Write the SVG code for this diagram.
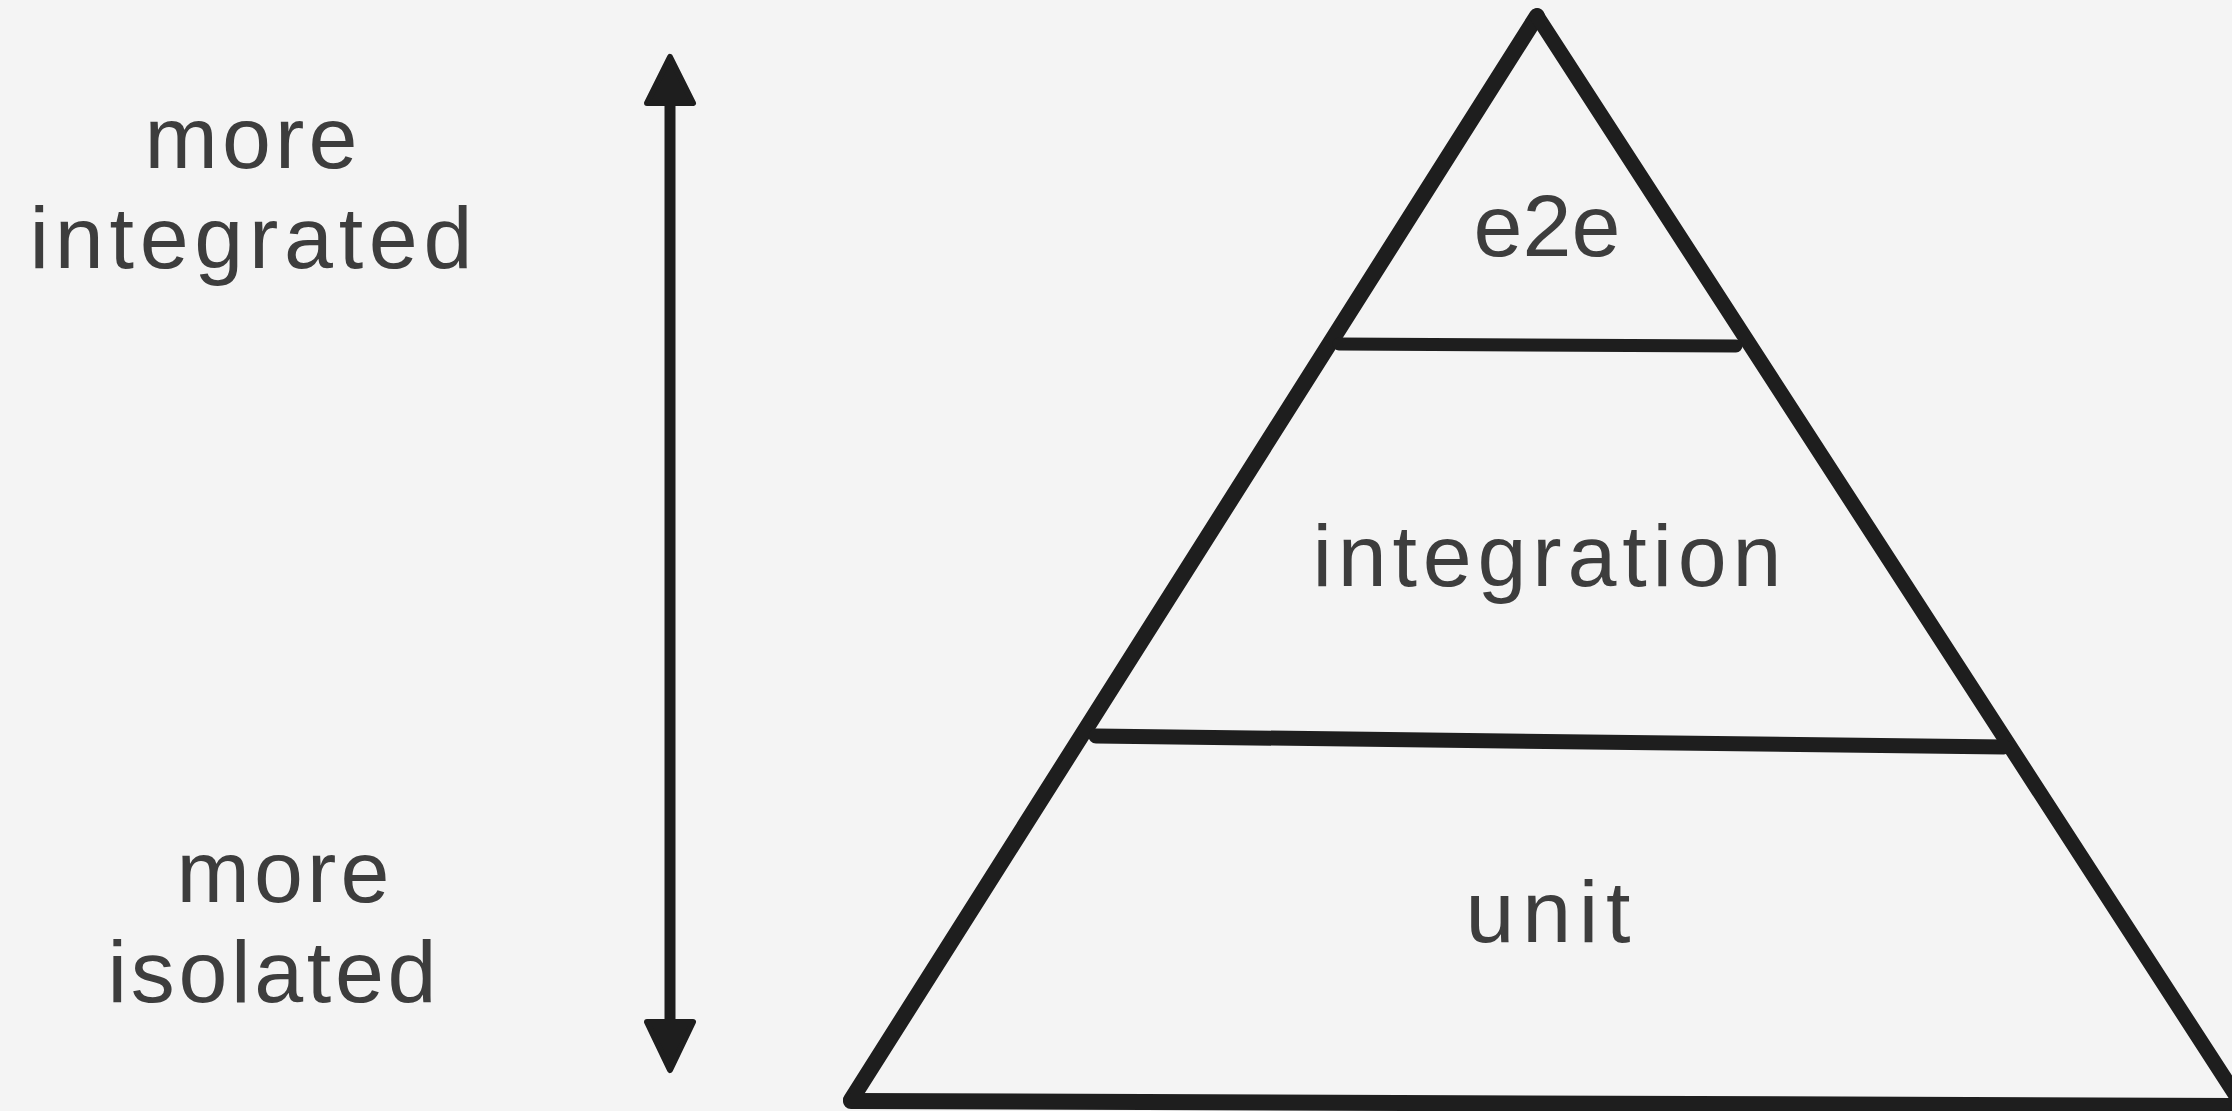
<svg xmlns="http://www.w3.org/2000/svg" width="2232" height="1111" viewBox="0 0 2232 1111">
  <style>
    .lbl { font-family: "Liberation Sans", Arial, sans-serif; font-size: 88px; fill: #3d3d3d; text-anchor: middle; }
    .edge { fill: none; stroke: #1e1e1e; stroke-linecap: round; stroke-linejoin: round; }
    .head { fill: #1e1e1e; stroke: #1e1e1e; stroke-width: 6; stroke-linejoin: round; }
  </style>
  <rect width="2232" height="1111" fill="#f4f4f4"/>

  <g id="pyramid">
    <line class="edge" x1="1537" y1="16" x2="851" y2="1100" stroke-width="16"/>
    <line class="edge" x1="1537" y1="16" x2="2246" y2="1111" stroke-width="15"/>
    <line class="edge" x1="851" y1="1101" x2="2240" y2="1106" stroke-width="16"/>
  </g>

  <g id="layer-dividers">
    <line class="edge" x1="1339" y1="344" x2="1736" y2="346" stroke-width="13"/>
    <line class="edge" x1="1096" y1="736" x2="2004" y2="747" stroke-width="15"/>
  </g>

  <g id="node-e2e">
    <text class="lbl" x="1547" y="256" font-size="80">e2e</text>
  </g>
  <g id="node-integration">
    <text class="lbl" x="1547" y="586" textLength="469" lengthAdjust="spacing">integration</text>
  </g>
  <g id="node-unit">
    <text class="lbl" x="1548" y="942" textLength="165" lengthAdjust="spacing">unit</text>
  </g>

  <g id="label-more-integrated">
    <text class="lbl" x="251" y="168" textLength="213" lengthAdjust="spacing">more</text>
    <text class="lbl" x="251" y="268" textLength="443" lengthAdjust="spacing">integrated</text>
  </g>
  <g id="label-more-isolated">
    <text class="lbl" x="283" y="902" textLength="213" lengthAdjust="spacing">more</text>
    <text class="lbl" x="272" y="1002" textLength="329" lengthAdjust="spacing">isolated</text>
  </g>

  <g id="connectors">
    <line class="edge" x1="670" y1="100" x2="670" y2="1025" stroke-width="11"/>
    <polygon class="head" points="670,57 693,103 647,103"/>
    <polygon class="head" points="670,1070 693,1022 647,1022"/>
  </g>
</svg>
